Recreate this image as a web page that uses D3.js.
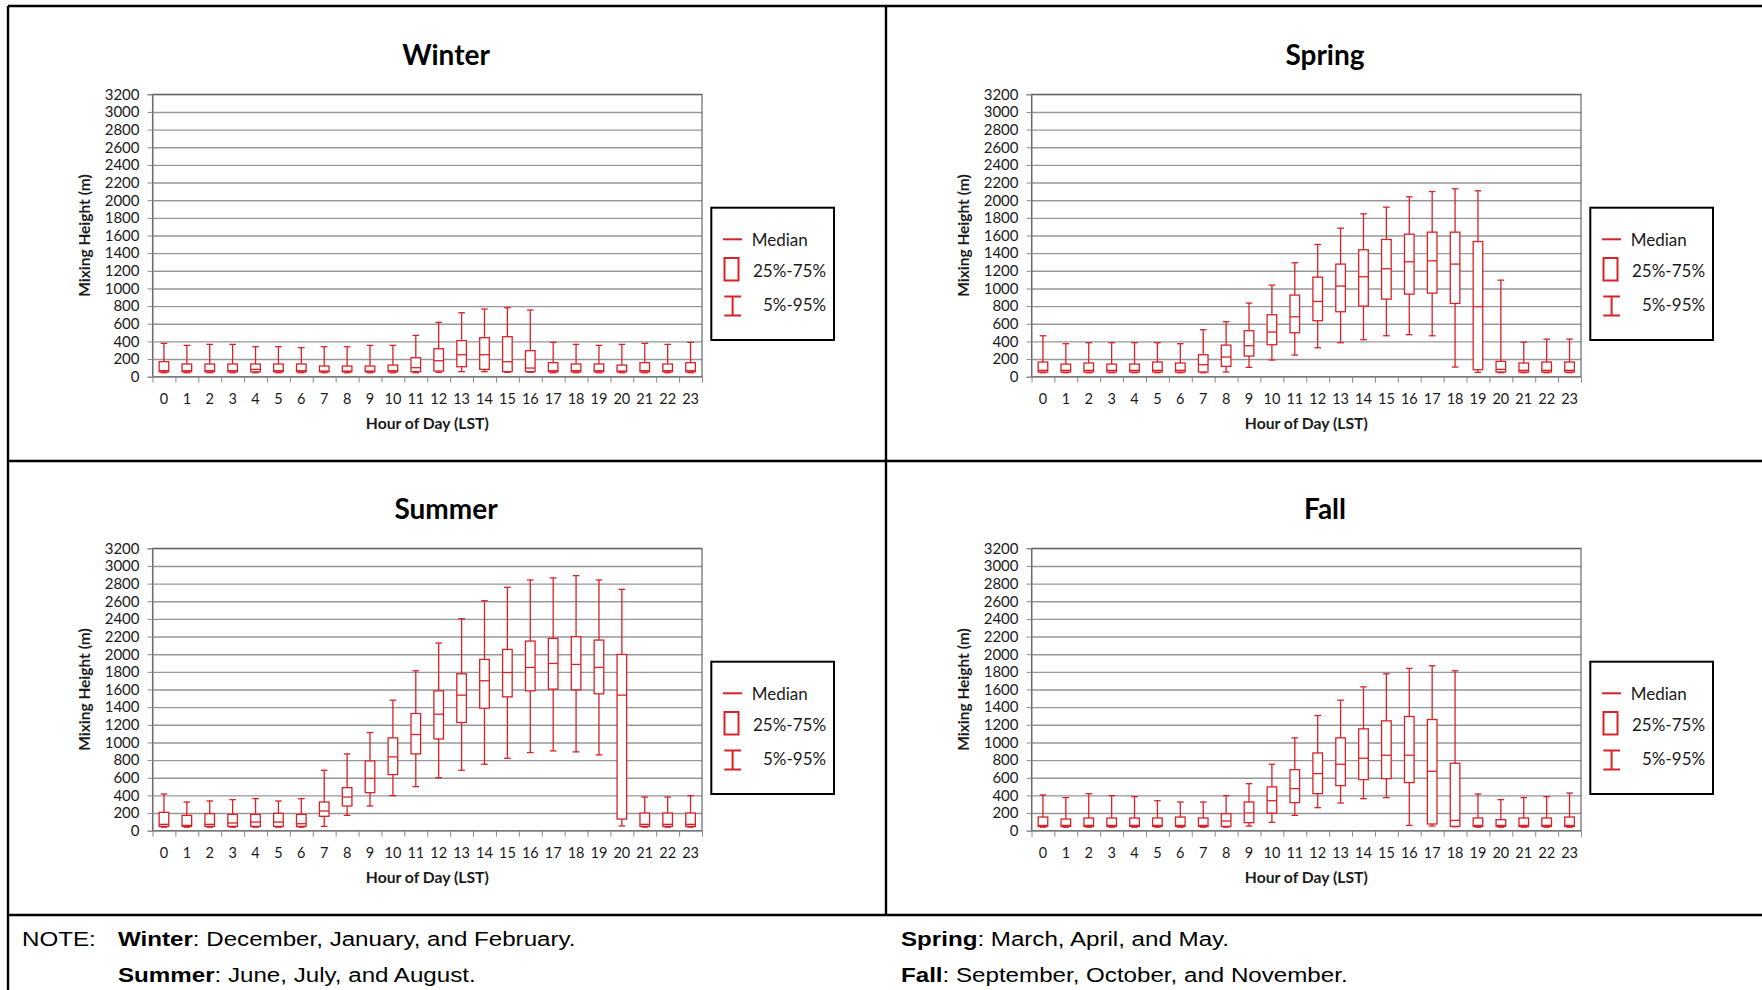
<!DOCTYPE html>
<html lang="en">
<head>
<meta charset="UTF-8">
<title>Mixing Height by Season</title>
<script src="https://cdn.jsdelivr.net/npm/d3@7"></script>
<style>
    body { margin: 0; padding: 0; background: #fff; }
    svg { display: block; }
</style>
</head>
<body>
<div id="chart"></div>
<script>
    // Hour categories and tick values
    const hours = [0,1,2,3,4,5,6,7,8,9,10,11,12,13,14,15,16,17,18,19,20,21,22,23];
    const yTicks = [0,200,400,600,800,1000,1200,1400,1600,1800,2000,2200,2400,2600,2800,3000,3200];

    // Winter (Dec, Jan, Feb) percentiles, metres
    const winterP5  = [45,45,45,45,45,45,45,45,45,45,45,45,50,57,57,50,50,45,45,45,45,45,45,45];
    const winterQ1  = [55,55,55,55,55,55,55,55,55,55,55,57,64,113,83,57,57,55,55,55,55,55,55,55];
    const winterMed = [68,68,68,68,83,68,68,64,64,64,68,102,181,249,249,170,98,68,68,68,64,68,68,68];
    const winterQ3  = [170,144,144,144,144,144,144,121,121,121,132,215,317,408,442,453,295,159,144,144,132,159,144,159];
    const winterP95 = [378,355,366,366,340,340,329,340,340,355,355,468,616,725,767,782,756,389,366,355,366,378,366,389];

    // Spring (Mar, Apr, May)
    const springP5  = [45,45,45,45,45,45,45,45,53,106,189,245,328,385,419,464,476,464,109,49,45,45,45,45];
    const springQ1  = [53,53,53,53,53,53,53,53,117,234,362,498,634,736,800,879,936,947,830,79,53,53,53,53];
    const springMed = [72,72,72,72,72,72,72,136,223,351,506,679,853,1027,1132,1223,1302,1313,1276,793,83,72,72,72];
    const springQ3  = [166,143,155,143,143,166,155,249,358,521,702,925,1128,1276,1438,1555,1615,1638,1638,1532,174,155,166,166];
    const springP95 = [464,374,385,385,385,385,374,532,623,834,1038,1291,1498,1683,1845,1921,2038,2098,2129,2106,1094,392,426,426];

    // Summer (Jun, Jul, Aug)
    const summerP5  = [40,40,40,40,40,40,40,49,174,280,397,499,601,685,753,821,885,904,893,859,53,40,40,40];
    const summerQ1  = [49,49,49,49,49,49,49,163,280,431,636,870,1040,1226,1388,1517,1585,1604,1596,1551,132,49,49,49];
    const summerMed = [72,60,72,87,98,98,79,223,382,594,836,1090,1320,1536,1699,1793,1850,1895,1884,1850,1536,72,72,72];
    const summerQ3  = [208,174,193,185,185,197,185,325,488,791,1052,1328,1585,1778,1941,2054,2149,2179,2198,2160,1997,200,200,200];
    const summerP95 = [416,325,337,352,363,337,363,685,870,1112,1479,1812,2126,2402,2606,2758,2841,2864,2890,2841,2735,382,382,397];

    // Fall (Sep, Oct, Nov)
    const fallP5  = [40,40,40,40,40,40,40,40,40,53,95,174,261,314,363,375,60,53,45,40,40,40,40,40];
    const fallQ1  = [49,49,49,49,49,49,49,49,49,91,200,318,420,511,579,590,545,76,49,49,49,49,49,49];
    const fallMed = [60,60,60,60,60,60,60,60,110,200,340,477,647,753,821,855,855,673,117,60,60,60,60,60];
    const fallQ3  = [155,132,144,144,144,144,155,144,193,325,496,692,881,1052,1154,1245,1294,1260,764,144,125,144,144,155];
    const fallP95 = [405,375,420,397,386,340,325,325,397,533,753,1052,1305,1479,1630,1778,1839,1869,1812,416,352,375,386,427];

    const panels = [
        { title: "Winter", col: 0, row: 0, p5: winterP5, q1: winterQ1, med: winterMed, q3: winterQ3, p95: winterP95 },
        { title: "Spring", col: 1, row: 0, p5: springP5, q1: springQ1, med: springMed, q3: springQ3, p95: springP95 },
        { title: "Summer", col: 0, row: 1, p5: summerP5, q1: summerQ1, med: summerMed, q3: summerQ3, p95: summerP95 },
        { title: "Fall",   col: 1, row: 1, p5: fallP5,   q1: fallQ1,   med: fallMed,   q3: fallQ3,   p95: fallP95 }
    ];

    const width = 1762;
    const height = 990;
    const red = "#d92228";
    const font = "Lato, 'Open Sans', sans-serif";

    // panel pitch and plot box inside a panel
    const colStep = 879;
    const rowStep = 454;
    const plot = { left: 152.5, right: 702, top: 94.3, bottom: 376.7 };

    const svg = d3.select("#chart").append("svg")
        .attr("width", width)
        .attr("height", height)
        .attr("viewBox", [0, 0, width, height])
        .style("background", "#fff");

    const x = d3.scaleBand().domain(hours).range([plot.left, plot.right]);
    const xEdge = d3.scaleLinear().domain([0, 24]).range([plot.left, plot.right]);
    const y = d3.scaleLinear().domain([0, 3200]).range([plot.bottom, plot.top]);

    const boxW = 9.6;
    const capW = 6.6;

    panels.forEach(p => {
        const g = svg.append("g")
            .attr("transform", `translate(${p.col * colStep},${p.row * rowStep})`);

        // gridlines
        g.append("g")
            .attr("transform", `translate(${plot.left},0)`)
            .call(d3.axisLeft(y).tickValues(yTicks.slice(1)).tickSize(-(plot.right - plot.left)).tickFormat(""))
            .call(s => s.select(".domain").remove())
            .call(s => s.selectAll(".tick line").attr("stroke", "#979797").attr("stroke-width", 1.4));

        // plot frame
        g.append("rect")
            .attr("x", plot.left).attr("y", plot.top)
            .attr("width", plot.right - plot.left).attr("height", plot.bottom - plot.top)
            .attr("fill", "none").attr("stroke", "#5a5a5a").attr("stroke-width", 1.1);

        // y axis
        g.append("g")
            .attr("transform", `translate(${plot.left},0)`)
            .call(d3.axisLeft(y).tickValues(yTicks).tickSize(5).tickPadding(8).tickFormat(d3.format("d")))
            .call(s => s.select(".domain").attr("stroke", "#7a7a7a"))
            .call(s => s.selectAll(".tick line").attr("stroke", "#8a8a8a"))
            .call(s => s.selectAll("text").attr("font-family", font).attr("font-size", 15).attr("fill", "#1a1a1a"));

        // x axis: labels centred on categories, tick marks on the boundaries
        g.append("g")
            .attr("transform", `translate(0,${plot.bottom})`)
            .call(d3.axisBottom(x).tickSize(0).tickPadding(17))
            .call(s => s.select(".domain").attr("stroke", "#8a8a8a"))
            .call(s => s.selectAll("text").attr("font-family", font).attr("font-size", 14.5).attr("fill", "#1a1a1a"));

        g.append("g")
            .attr("transform", `translate(0,${plot.bottom})`)
            .call(d3.axisBottom(xEdge).ticks(24).tickSize(6).tickFormat(""))
            .call(s => s.select(".domain").remove())
            .call(s => s.selectAll(".tick line").attr("stroke", "#8a8a8a"));

        // boxes
        const rows = hours.map((h, i) => ({ h, p5: p.p5[i], q1: p.q1[i], med: p.med[i], q3: p.q3[i], p95: p.p95[i] }));
        const box = g.append("g").selectAll("g").data(rows).join("g")
            .attr("transform", d => `translate(${x(d.h) + x.bandwidth() / 2},0)`)
            .attr("stroke", red).attr("stroke-width", 1.3).attr("fill", "none");

        box.append("line").attr("y1", d => y(d.p5)).attr("y2", d => y(d.p95));
        box.append("line").attr("x1", -capW / 2).attr("x2", capW / 2).attr("y1", d => y(d.p95)).attr("y2", d => y(d.p95));
        box.append("line").attr("x1", -capW / 2).attr("x2", capW / 2).attr("y1", d => y(d.p5)).attr("y2", d => y(d.p5));
        box.append("rect")
            .attr("x", -boxW / 2).attr("width", boxW)
            .attr("y", d => y(d.q3)).attr("height", d => y(d.q1) - y(d.q3))
            .attr("fill", "#fff");
        box.append("line").attr("x1", -boxW / 2).attr("x2", boxW / 2).attr("y1", d => y(d.med)).attr("y2", d => y(d.med));

        // titles
        g.append("text")
            .attr("x", 446).attr("y", 65)
            .attr("text-anchor", "middle")
            .attr("font-family", font).attr("font-weight", "bold").attr("font-size", 28)
            .text(p.title);

        g.append("text")
            .attr("transform", `translate(90,${(plot.top + plot.bottom) / 2}) rotate(-90)`)
            .attr("text-anchor", "middle")
            .attr("font-family", font).attr("font-weight", "bold").attr("font-size", 15.5)
            .attr("fill", "#1a1a1a")
            .text("Mixing Height (m)");

        g.append("text")
            .attr("x", (plot.left + plot.right) / 2).attr("y", 429)
            .attr("text-anchor", "middle")
            .attr("font-family", font).attr("font-weight", "bold").attr("font-size", 15.7)
            .attr("fill", "#1a1a1a")
            .text("Hour of Day (LST)");

        // legend
        const lg = g.append("g");
        lg.append("rect")
            .attr("x", 711.3).attr("y", 207.7).attr("width", 122.7).attr("height", 132.3)
            .attr("fill", "#fff").attr("stroke", "#000").attr("stroke-width", 2);
        lg.append("line").attr("x1", 723).attr("x2", 742).attr("y1", 239.3).attr("y2", 239.3)
            .attr("stroke", red).attr("stroke-width", 2);
        lg.append("rect").attr("x", 724.5).attr("y", 258).attr("width", 14).attr("height", 22.5)
            .attr("fill", "none").attr("stroke", red).attr("stroke-width", 2);
        lg.append("path").attr("d", "M724.3,296.5H741M732.6,296.5V315.5M724.3,315.5H741")
            .attr("fill", "none").attr("stroke", red).attr("stroke-width", 2);
        const legText = [["Median", 751.7, 246], ["25%-75%", 753, 277.3], ["5%-95%", 763, 310.7]];
        lg.selectAll("text.leg").data(legText).join("text")
            .attr("class", "leg")
            .attr("x", d => d[1]).attr("y", d => d[2])
            .attr("font-family", font).attr("font-size", 17).attr("fill", "#1a1a1a")
            .text(d => d[0]);
    });

    // outer frame and dividers
    const frame = svg.append("g").attr("stroke", "#000").attr("stroke-width", 2.4);
    frame.append("line").attr("x1", 8).attr("x2", 8).attr("y1", 6).attr("y2", height);
    frame.append("line").attr("x1", 8).attr("x2", width).attr("y1", 6).attr("y2", 6);
    frame.append("line").attr("x1", 886).attr("x2", 886).attr("y1", 6).attr("y2", 915);
    frame.append("line").attr("x1", 8).attr("x2", width).attr("y1", 461).attr("y2", 461);
    frame.append("line").attr("x1", 8).attr("x2", width).attr("y1", 915).attr("y2", 915);

    // notes
    const notes = [
        { x: 118, y: 946, bold: "Winter", rest: ": December, January, and February." },
        { x: 118, y: 982, bold: "Summer", rest: ": June, July, and August." },
        { x: 901, y: 946, bold: "Spring", rest: ": March, April, and May." },
        { x: 901, y: 982, bold: "Fall", rest: ": September, October, and November." }
    ];
    const noteFont = "'Liberation Sans', Arial, sans-serif";
    const noteStretch = 1.15;

    svg.append("text")
        .attr("transform", `translate(22,946) scale(${noteStretch},1)`)
        .attr("font-family", noteFont).attr("font-size", 21)
        .text("NOTE:");

    notes.forEach(n => {
        const t = svg.append("text")
            .attr("transform", `translate(${n.x},${n.y}) scale(${noteStretch},1)`)
            .attr("font-family", noteFont).attr("font-size", 21);
        t.append("tspan").attr("font-weight", "bold").text(n.bold);
        t.append("tspan").text(n.rest);
    });
</script>
</body>
</html>
